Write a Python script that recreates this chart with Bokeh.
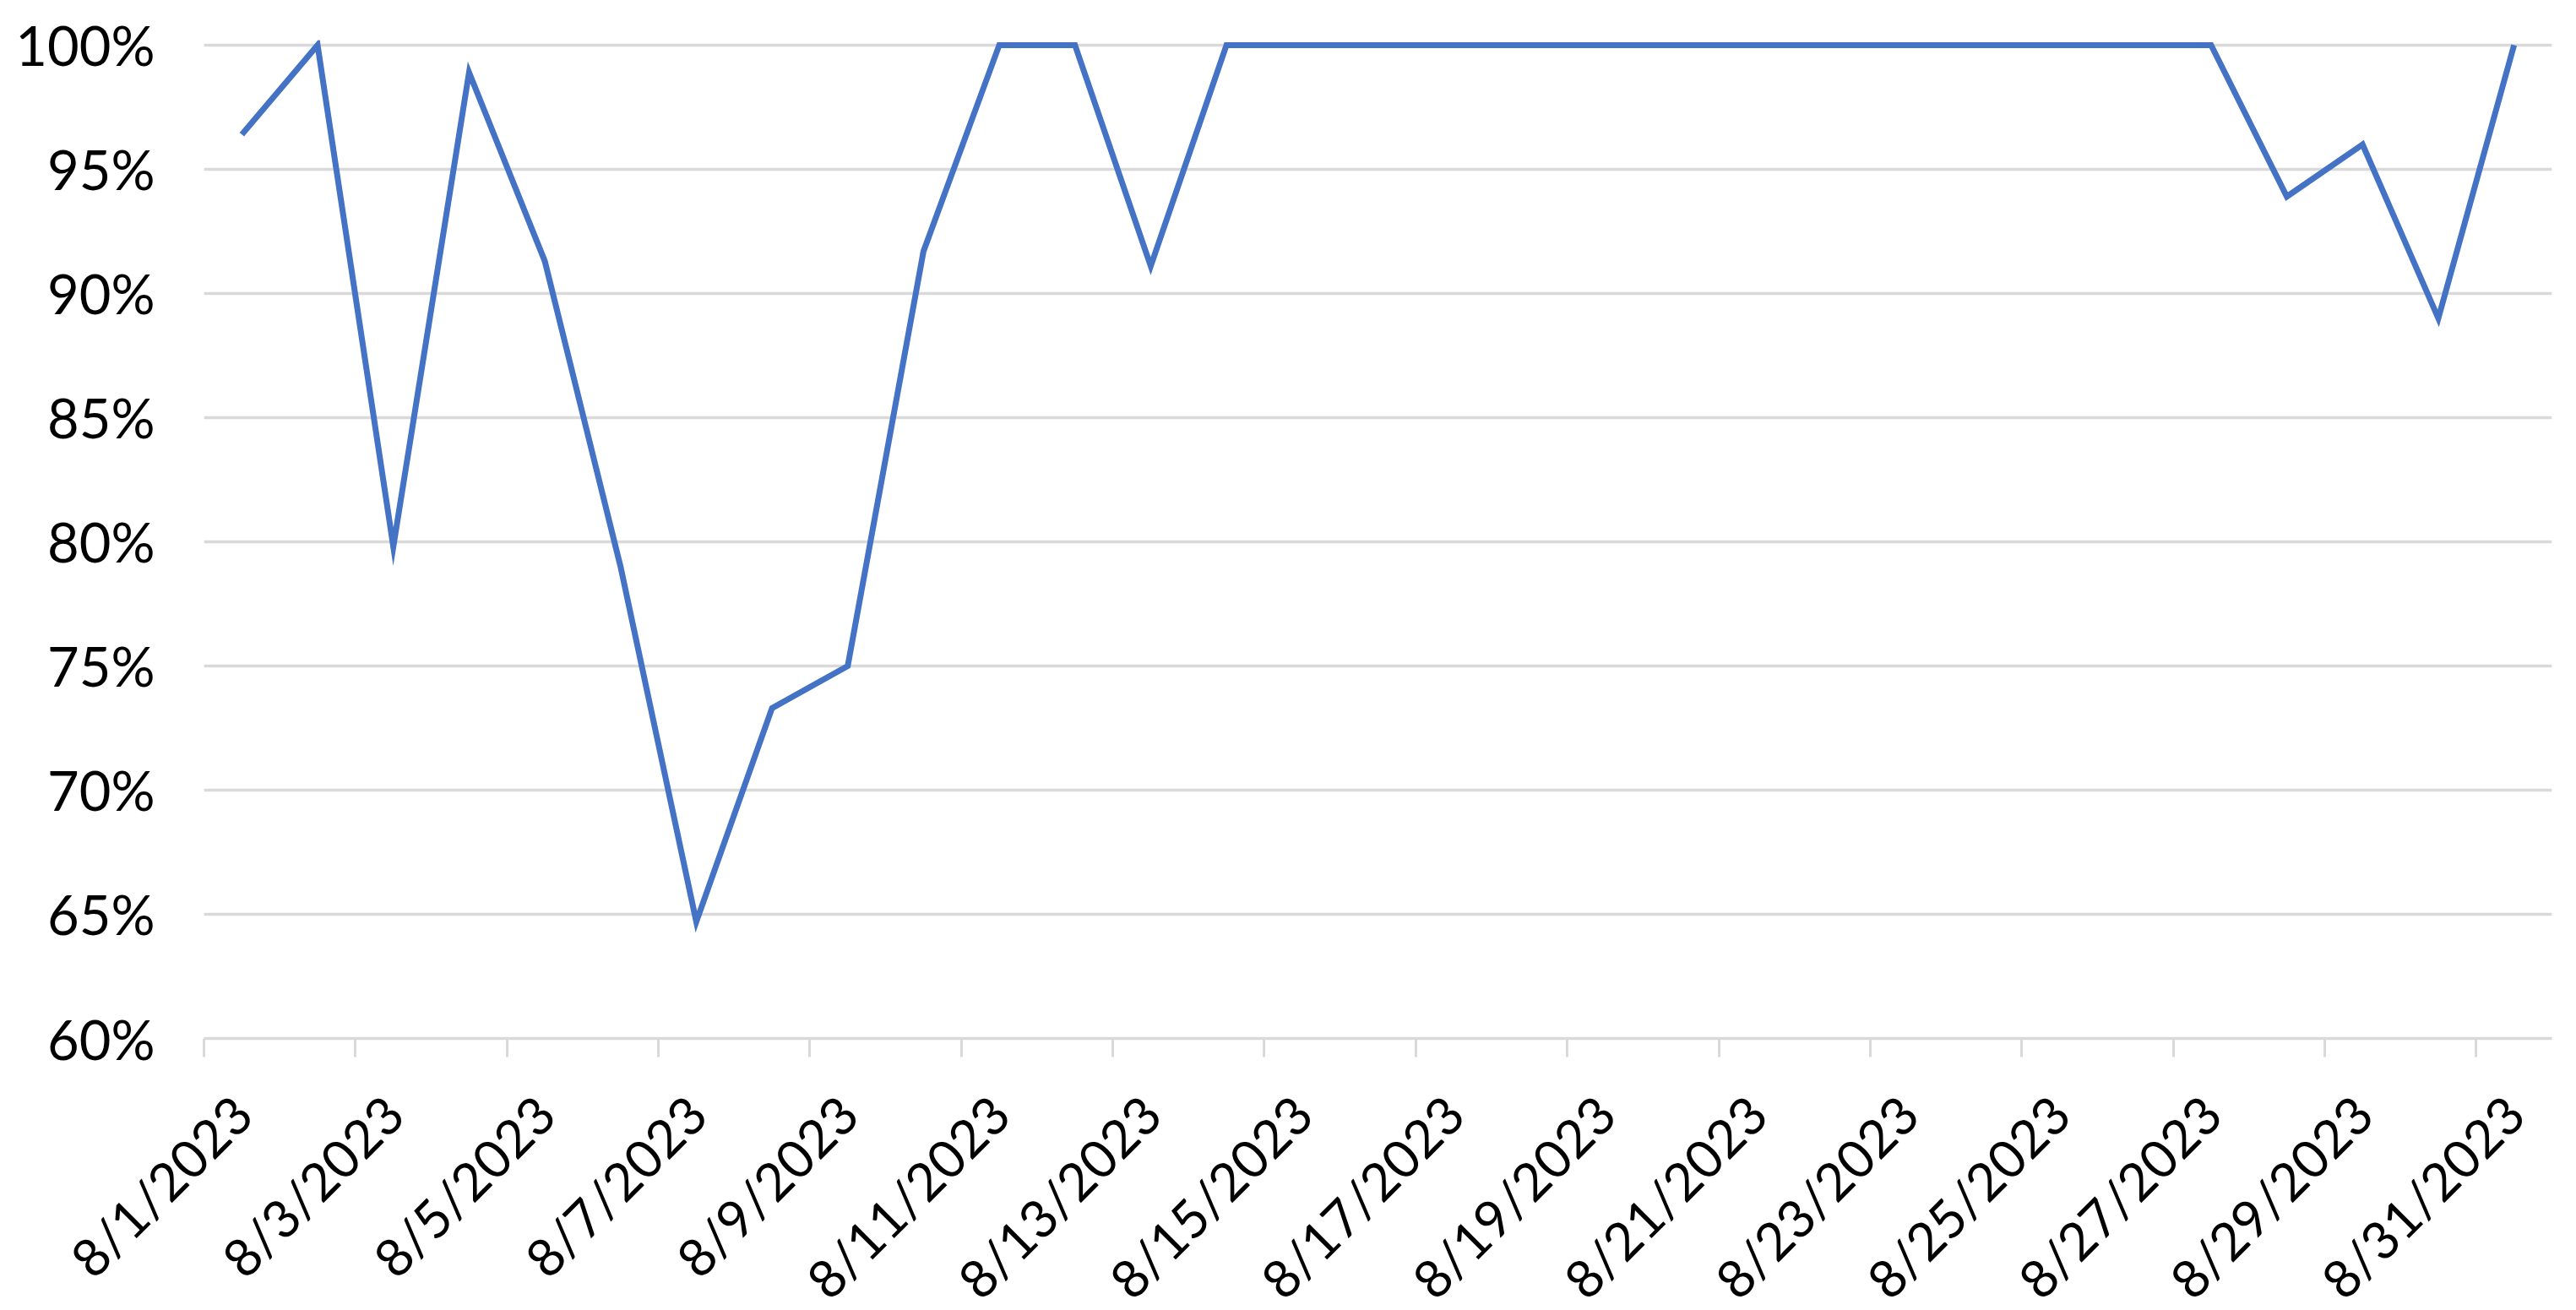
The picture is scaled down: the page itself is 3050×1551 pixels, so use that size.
import math
from bokeh.plotting import figure
from bokeh.models import Range1d, FixedTicker, NumeralTickFormatter, ColumnDataSource
from bokeh.embed import file_html
from bokeh.resources import INLINE

# ---- data ----
dates = ["8/1/2023", "8/2/2023", "8/3/2023", "8/4/2023", "8/5/2023", "8/6/2023",
         "8/7/2023", "8/8/2023", "8/9/2023", "8/10/2023", "8/11/2023", "8/12/2023",
         "8/13/2023", "8/14/2023", "8/15/2023", "8/16/2023", "8/17/2023", "8/18/2023",
         "8/19/2023", "8/20/2023", "8/21/2023", "8/22/2023", "8/23/2023", "8/24/2023",
         "8/25/2023", "8/26/2023", "8/27/2023", "8/28/2023", "8/29/2023", "8/30/2023",
         "8/31/2023"]
values_pct = [96.4, 100.0, 79.8, 98.9, 91.3, 79.0, 64.7, 73.3, 75.0, 91.7,
              100.0, 100.0, 91.1, 100.0, 100.0, 100.0, 100.0, 100.0, 100.0, 100.0,
              100.0, 100.0, 100.0, 100.0, 100.0, 100.0, 100.0, 93.9, 96.0, 89.0,
              100.0]
y_ticks = [0.60, 0.65, 0.70, 0.75, 0.80, 0.85, 0.90, 0.95, 1.00]

FONT = "Lato"
GRID = "#d9d9d9"

idx = list(range(len(dates)))
src = ColumnDataSource(data=dict(x=idx, y=[v / 100.0 for v in values_pct]))

p = figure(frame_width=2780, frame_height=1182,
           min_border_left=241, min_border_right=25, min_border_top=47, min_border_bottom=310,
           x_range=Range1d(-0.5, len(dates) - 0.5), y_range=Range1d(0.6, 1.002),
           output_backend="svg", toolbar_location=None, tools="")
p.outline_line_color = None
p.background_fill_color = "white"
p.border_fill_color = "white"

# grid
p.xgrid.grid_line_color = None
p.ygrid.ticker = FixedTicker(ticks=y_ticks)
p.ygrid.grid_line_color = GRID
p.ygrid.grid_line_width = 3.5

# y axis
p.yaxis.ticker = FixedTicker(ticks=y_ticks)
p.yaxis.formatter = NumeralTickFormatter(format="0%")
p.yaxis.axis_line_color = None
p.yaxis.major_tick_line_color = None
p.yaxis.minor_tick_line_color = None
p.yaxis.major_tick_out = 0
p.yaxis.major_tick_in = 0
p.yaxis.major_label_standoff = 58
p.yaxis.major_label_text_font = FONT
p.yaxis.major_label_text_font_size = "65px"
p.yaxis.major_label_text_color = "black"

# x axis
label_pos = idx[::2]
tick_marks = [i - 0.5 for i in idx[::2]]
p.xaxis.ticker = FixedTicker(ticks=label_pos, minor_ticks=tick_marks)
p.xaxis.major_label_overrides = {i: dates[i] for i in label_pos}
p.xaxis.axis_line_color = GRID
p.xaxis.axis_line_width = 3.5
p.xaxis.major_tick_line_color = None
p.xaxis.major_tick_out = 0
p.xaxis.major_tick_in = 0
p.xaxis.minor_tick_line_color = GRID
p.xaxis.minor_tick_line_width = 3
p.xaxis.minor_tick_out = 22
p.xaxis.minor_tick_in = 0
p.xaxis.major_label_orientation = math.pi / 4
p.xaxis.major_label_standoff = 56
p.xaxis.major_label_text_font = FONT
p.xaxis.major_label_text_font_size = "62px"
p.xaxis.major_label_text_color = "black"

p.line("x", "y", source=src, line_color="#4472C4", line_width=7, line_join="miter")

open("out.html", "w").write(file_html(p, INLINE))
